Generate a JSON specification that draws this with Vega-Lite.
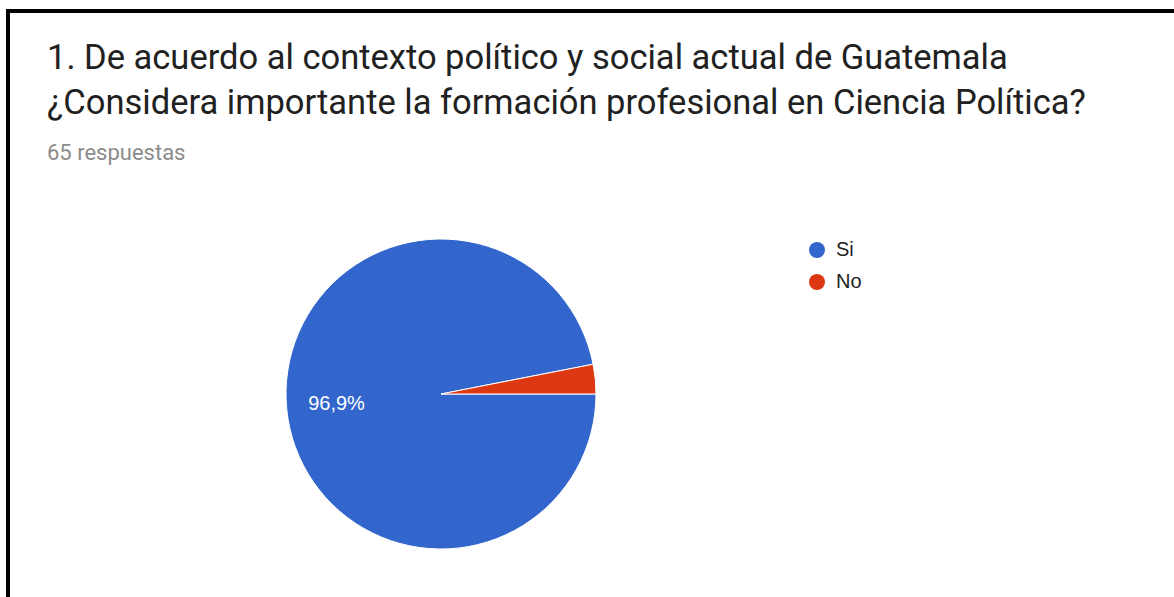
{
  "$schema": "https://vega.github.io/schema/vega-lite/v6.json",
  "width": 1166,
  "height": 766,
  "autosize": "none",
  "padding": {"left": 8, "top": 11, "right": 0, "bottom": 0},
  "background": "white",
  "view": {"stroke": "black", "strokeWidth": 4, "strokeDash": [1166, 766, 1932]},
  "title": {
    "text": ["1. De acuerdo al contexto político y social actual de Guatemala", "¿Considera importante la formación profesional en Ciencia Política?"],
    "subtitle": "65 respuestas",
    "anchor": "start",
    "frame": "group",
    "orient": "top",
    "offset": -154,
    "dx": 39,
    "font": "Roboto",
    "fontSize": 34.5,
    "fontWeight": "normal",
    "color": "#212121",
    "lineHeight": 45,
    "subtitleFont": "Roboto",
    "subtitleFontSize": 22,
    "subtitleColor": "#8c8c8c",
    "subtitlePadding": 22
  },
  "data": {
    "values": [
      {"respuesta": "Si", "n": 63, "orden": 1, "etiqueta": "96,9%"},
      {"respuesta": "No", "n": 2, "orden": 2, "etiqueta": ""}
    ]
  },
  "encoding": {
    "theta": {"field": "n", "type": "quantitative", "stack": true, "scale": {"range": [1.5708, 7.854]}},
    "order": {"field": "orden", "type": "ordinal"}
  },
  "layer": [
    {
      "mark": {"type": "arc", "radius": 155, "xOffset": -150, "stroke": "white", "strokeWidth": 1},
      "encoding": {
        "color": {
          "field": "respuesta",
          "type": "nominal",
          "sort": ["Si", "No"],
          "scale": {"domain": ["Si", "No"], "range": ["#3366cc", "#dc3912"]},
          "legend": {
            "title": null,
            "orient": "none",
            "legendX": 799,
            "legendY": 229,
            "symbolType": "circle",
            "symbolSize": 256,
            "symbolStrokeWidth": 0,
            "labelFont": "Arial",
            "labelFontSize": 20,
            "labelColor": "#222222",
            "labelOffset": 9,
            "rowPadding": 12
          }
        }
      }
    },
    {
      "mark": {"type": "text", "radius": 105, "xOffset": -150, "color": "white", "font": "Arial", "fontSize": 20},
      "encoding": {
        "text": {"field": "etiqueta", "type": "nominal"}
      }
    }
  ]
}
